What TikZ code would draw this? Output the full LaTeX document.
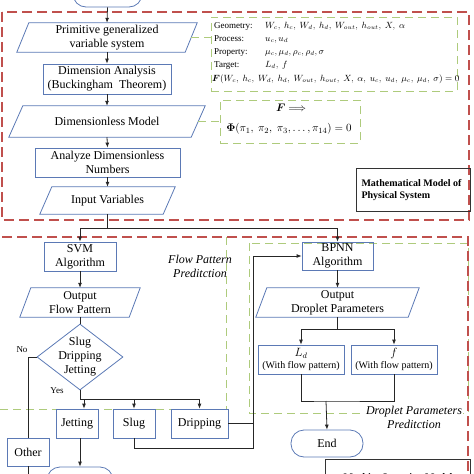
\documentclass[tikz,border=0pt]{standalone}
\usepackage{fontspec}
\setmainfont{Liberation Serif}
\usepackage{amsmath}
\usetikzlibrary{shapes.geometric,arrows.meta}
\definecolor{bluec}{HTML}{5B79B5}
\definecolor{redc}{HTML}{C0504D}
\definecolor{greenc}{HTML}{AECB7C}
\newcommand\drawpara[2]{\draw[boxline] ([xshift=#2]#1.north west) -- (#1.north east) -- ([xshift=-#2]#1.south east) -- (#1.south west) -- cycle;}
\begin{document}
\begin{tikzpicture}[x=1pt,y=-1pt,
  boxline/.style={draw=bluec, line width=0.8pt},
  box/.style={boxline, rectangle, inner sep=0, align=center, font=\fontsize{12}{14}\selectfont},
  para/.style={rectangle, inner sep=0, align=center, font=\fontsize{12}{14}\selectfont},
  term/.style={boxline, rectangle, rounded corners=13, inner sep=0, font=\fontsize{12}{14}\selectfont},
  arr/.style={-{Latex[length=5pt,width=4pt]}, line width=0.8pt, draw=black!85},
  ln/.style={line width=0.8pt, draw=black!85},
  reddash/.style={draw=redc, line width=1.2pt, dash pattern=on 10pt off 5pt},
  greendash/.style={draw=greenc, line width=0.9pt, dash pattern=on 8pt off 5pt},
  lbl/.style={font=\fontsize{12}{14}\selectfont\itshape, align=center},
  small/.style={font=\fontsize{9}{11}\selectfont},
  vt/.style={font=\fontsize{9}{11}\selectfont, inner sep=0, anchor=base west},
]
\useasboundingbox (0,0) rectangle (474,474);
\clip (0,0) rectangle (474,474);

% dashed frames
\draw[reddash] (2,12) rectangle (469,220);
\draw[greendash] (226,237) -- (226,409) -- (-5,409);
\draw[greendash] (249,243) rectangle (468,413);
\draw[reddash] (-5,237) rectangle (468,500);

% top column
\node[term, minimum width=69, minimum height=28] (start) at (107.5,-7) {};
\node[para, minimum width=180, minimum height=29] (prim) at (107,37.5) {Primitive generalized\\variable system};
\drawpara{prim}{12}
\node[box, minimum width=128, minimum height=30] (dim) at (107,79) {Dimension Analysis\\(Buckingham\ \ Theorem)};
\node[para, minimum width=196, minimum height=31] (dless) at (107,121.5) {Dimensionless Model};
\drawpara{dless}{14}
\node[box, minimum width=145, minimum height=29] (ana) at (107.5,162.5) {Analyze Dimensionless\\Numbers};
\node[para, minimum width=135, minimum height=27] (inp) at (107.5,200.5) {Input Variables};
\drawpara{inp}{12}

\draw[arr] (start.south) -- (prim.north);
\draw[arr] (prim.south) -- (dim.north);
\draw[arr] (dim.south) -- (dless.north);
\draw[arr] (dless.south) -- (ana.north);
\draw[arr] (ana.south) -- (inp.north);

% green boxes with equations
\node[greendash, rectangle, minimum width=246, minimum height=74, inner sep=0] (vars) at (334,54) {};
\node[greendash, rectangle, minimum width=140, minimum height=43, inner sep=0] (phi) at (290,121.5) {};
\draw[greendash] ([xshift=-6]prim.east) -- (vars.west |- prim.east);
\draw[greendash] ([xshift=-7]dless.east) -- (phi.west);

\node[vt] (l1) at (214,28) {Geometry:};
\node[vt] (v1) at (265,28) {$W_c,\ h_c,\ W_d,\ h_d,\ W_{out},\ h_{out},\ X,\ \alpha$};
\node[vt] (l2) at (214,41) {Process:};
\node[vt] (v2) at (265,41) {$u_c,u_d$};
\node[vt] (l3) at (214,54) {Property:};
\node[vt] (v3) at (265,54) {$\mu_c,\mu_d,\rho_c,\rho_d,\sigma$};
\node[vt] (l4) at (214,67) {Target:};
\node[vt] (v4) at (265,67) {$L_d,\ f$};
\node[vt] (v5) at (212,81) {$\boldsymbol{F}(W_c,\ h_c,\ W_d,\ h_d,\ W_{out},\ h_{out},\ X,\ \alpha,\ u_c,\ u_d,\ \mu_c,\ \mu_d,\ \sigma)=0$};

\node[font=\fontsize{11}{13}\selectfont, inner sep=0] (p1) at (291,107.5) {$\boldsymbol{F}\Longrightarrow$};
\node[font=\fontsize{11}{13}\selectfont, inner sep=0] (p2) at (289,129) {$\boldsymbol{\Phi}(\pi_1,\ \pi_2,\ \pi_3,\dots,\pi_{14})=0$};

% math model label
\node[draw=black!80, line width=0.8pt, minimum width=114, minimum height=43, inner sep=0] (mm) at (413,189.5) {};
\node[anchor=west, font=\fontsize{10}{12}\selectfont\bfseries, align=left] (mmt) at (358,190) {Mathematical Model of\\Physical System};

% split
\coordinate (j1) at (107.5,228);
\node[box, minimum width=72, minimum height=29] (svm) at (80,256.5) {SVM\\Algorithm};
\node[box, minimum width=71, minimum height=28] (bpnn) at (337.5,256) {BPNN\\Algorithm};
\draw[ln] (inp.south) -- (j1);
\draw[arr] (j1) -| (svm.north);
\draw[arr] (j1) -| (bpnn.north);

% flow pattern branch
\node[lbl] (fpl) at (200,266) {Flow Pattern\\Preditction};
\node[para, minimum width=120, minimum height=29] (ofp) at (80,302.5) {Output\\Flow Pattern};
\drawpara{ofp}{11}
\node[boxline, diamond, minimum width=86, minimum height=66, inner sep=0] (dec) at (80,357) {};
\node[align=center, font=\fontsize{12}{14}\selectfont] (dect) at (dec.center) {Slug\\Dripping\\Jetting};
\draw[arr] (svm.south) -- (ofp.north);
\draw[ln] (ofp.south) -- (dec.north);

\node[small] (no) at (22,350) {No};
\node[small] (yes) at (57,391) {Yes};
\node[box, minimum width=42, minimum height=28] (other) at (28,452) {Other};
\draw[ln] (dec.west) -| (other.north);
\draw[ln] (other.south) -- ++(0,20);

\coordinate (yb) at (80,399);
\node[box, minimum width=42, minimum height=29] (jet) at (77,423.5) {Jetting};
\node[box, minimum width=42, minimum height=29] (slug) at (134,423.5) {Slug};
\node[box, minimum width=57, minimum height=29] (drip) at (199.5,423.5) {Dripping};
\draw[ln] (dec.south) -- (yb);
\draw[arr] (yb) -| ([xshift=7]jet.north);
\draw[arr] (yb) -| (slug.north);
\draw[arr] (yb) -| (drip.north);

\node[term, minimum width=66, minimum height=28] (jend) at (80,481) {};
\draw[arr] (jet.south -| jend.north) -- (jend.north);

\coordinate (jn) at (253,448);
\draw[ln] (slug.south) |- (jn) -- (jn |- drip.east);
\draw[arr] (drip.east) -- (jn |- drip.east) |- (bpnn.west);

% droplet branch
\node[lbl, fill=white, inner sep=1pt] (dpl) at (414,417.5) {Droplet Parameters\\Preditction};
\node[para, minimum width=163, minimum height=29] (odp) at (337.5,302.5) {Output\\Droplet Parameters};
\drawpara{odp}{11}
\draw[arr] (bpnn.south) -- (odp.north);
\node[box, minimum width=86, minimum height=29] (ld) at (301,359.5) {$L_d$\\[-2pt]{\fontsize{10}{11}\selectfont(With flow pattern)}};
\node[box, minimum width=86, minimum height=29] (fnode) at (394,359.5) {$f$\\[-2pt]{\fontsize{10}{11}\selectfont(With flow pattern)}};
\coordinate (j2) at (337.5,329);
\draw[ln] (odp.south) -- (j2);
\draw[arr] (j2) -| (ld.north);
\draw[arr] (j2) -| (fnode.north);
\coordinate (j3) at (326,401);
\node[term, minimum width=72, minimum height=27] (endn) at (327,443.5) {End};
\draw[ln] (ld.south) |- (j3) -| (fnode.south);
\draw[arr] (j3) -- (endn.north);

% machine learning label (cut)
\node[draw=black!80, line width=0.8pt, minimum width=145, minimum height=40, inner sep=0, anchor=north west] (ml) at (325,459) {};
\node[font=\fontsize{10}{12}\selectfont\bfseries, anchor=base] (mlt) at (398,480) {Machine Learning Model};
\end{tikzpicture}
\end{document}
